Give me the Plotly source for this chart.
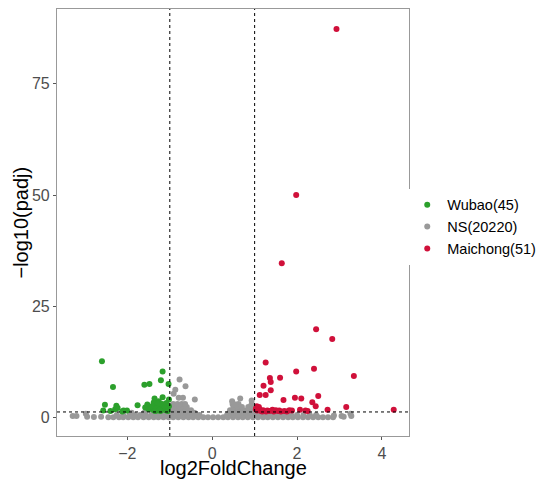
import plotly.graph_objects as go

# significant down (Wubao)
down_x = [-2.60, -1.17, -2.34, -1.21, -1.48, -1.60, -1.03, -1.02, -2.53, -2.57, -2.26, -2.23,
          -2.29, -2.09, -2.01, -1.76, -1.53, -1.36, -1.17, -1.26, -1.02, -1.45, -1.40, -1.33,
          -1.30, -1.25, -1.20, -1.15, -1.10, -1.06, -1.38, -1.28, -1.18, -1.12, -1.50, -1.42,
          -1.22, -1.08, -1.32, -1.05, -1.58, -2.40, -2.12, -1.35, -1.24]
down_y = [12.7, 10.4, 6.9, 8.4, 7.6, 7.4, 7.6, 4.1, 2.9, 1.6, 2.7, 2.2,
          1.9, 1.6, 1.6, 2.8, 3.0, 4.3, 4.6, 3.7, 2.6, 2.2, 1.8, 2.9,
          1.6, 2.4, 1.9, 2.8, 1.7, 2.0, 3.4, 3.2, 3.1, 2.3, 1.9, 2.6,
          1.5, 3.3, 2.1, 1.5, 2.3, 1.5, 1.4, 1.5, 1.7]

# significant up (Maichong)
up_x = [2.93, 1.98, 1.64, 2.45, 2.83, 1.26, 2.40, 1.98, 3.34, 1.36, 1.60, 1.38, 1.21,
        1.38, 1.12, 1.26, 2.50, 1.95, 2.10, 1.68, 2.36, 2.44, 3.16, 4.28, 2.72, 2.07,
        1.05, 1.08, 1.12, 1.20, 1.30, 1.42, 1.50, 1.58, 1.70, 1.82, 1.27, 1.03, 1.15,
        1.35, 1.62, 1.88, 2.25, 1.06, 1.10, 1.45, 1.55, 1.76, 2.20, 1.04, 1.18]
up_y = [87.3, 50.0, 34.7, 19.9, 17.7, 12.4, 11.0, 10.4, 9.4, 8.9, 9.0, 8.0, 7.2,
        6.2, 5.1, 5.1, 4.9, 4.5, 4.3, 4.0, 3.5, 2.6, 2.4, 1.8, 1.8, 1.8,
        2.6, 2.2, 1.9, 1.7, 1.6, 1.8, 1.7, 1.6, 1.5, 1.7, 1.4, 1.9, 1.5,
        1.5, 1.4, 1.6, 1.5, 1.6, 2.4, 1.4, 1.5, 1.4, 1.6, 2.1, 1.4]

# not significant (representative read of the grey cloud)
ns_x = [-2.45, -2.33, -2.2, -2.1, -1.98, -1.86, -1.75, -1.62, -1.5, -1.38, -1.27, -1.15, -1.03,
        -0.92, -0.8, -0.68, -0.56, -0.45, -0.33, -0.21, -0.1, 0.02, 0.14, 0.26, 0.37, 0.49,
        0.61, 0.72, 0.84, 0.96, 1.08, 1.2, 1.31, 1.43, 1.55, 1.67, 1.79, 1.9, 2.02, 2.14,
        2.26, 2.38, 2.5, 2.61, 2.73, 2.85,
        -2.25, -2.1, -1.95, -1.82, -1.7, -1.57, -1.44, -1.3, -1.18, -1.05, -0.93, -0.8, -0.68,
        -0.55, -0.42, -0.3, 0.35, 0.47, 0.6, 0.72, 0.85, 0.97, 1.1, 1.22, 1.35, 1.48, 1.6,
        1.73, 1.86, 2.0, 2.15, 2.3, 2.45,
        -1.9, -1.6, -1.35, -1.15, -0.98, -0.86, -0.75, -0.63, -0.52, -0.42, 0.4, 0.5, 0.6,
        0.7, 0.8, 0.9, 1.05, 1.25, 1.5, 1.8,
        -0.97, -0.88, -0.78, -0.68, -0.58, -0.5, 0.42, 0.52, 0.62, 0.72, 0.82, 0.92,
        -0.95, -0.86, -0.77, -0.68, -0.6, 0.5, 0.6, 0.7, 0.85, 0.95,
        -0.92, -0.82, -0.72, -0.64, 0.48, 0.62, 0.93,
        -0.77, -0.63, -0.91, -0.79, -0.69, -0.41, -0.87, 0.47, 0.66, 0.93, 0.55,
        -3.29, -3.2, -2.98, -2.95, -2.79, 3.05, 3.26, 3.28, 2.87, -2.62, 3.1]
ns_y = [0.1] * 46 + [0.6] * 33 + [1.1] * 20 + [1.7] * 12 + [2.4] * 10 + [3.1] * 7 + \
       [8.6, 7.1, 5.4, 4.5, 4.5, 4.1, 6.3, 3.7, 4.3, 3.9, 3.0,
        0.4, 0.4, 0.9, 0.2, 0.15, 0.4, 0.9, 0.4, 0.5, 0.2, 0.2]

fig = go.Figure()
mk = dict(size=6, line=dict(width=0))
fig.add_trace(go.Scatter(x=ns_x, y=ns_y, mode='markers', name='NS(20220)', legendrank=2,
                         marker=dict(color='#999999', **mk)))
fig.add_trace(go.Scatter(x=down_x, y=down_y, mode='markers', name='Wubao(45)', legendrank=1,
                         marker=dict(color='#2ca02c', **mk)))
fig.add_trace(go.Scatter(x=up_x, y=up_y, mode='markers', name='Maichong(51)', legendrank=3,
                         marker=dict(color='#d0103a', **mk)))

for v in (-1, 1):
    fig.add_vline(x=v, line=dict(color='black', width=1, dash='dot'))
fig.add_hline(y=1.3, line=dict(color='black', width=1, dash='dot'))

axis = dict(showgrid=False, zeroline=False, showline=True, mirror=True, linecolor='#999999',
            linewidth=1.2, ticks='outside', ticklen=3, tickcolor='#555555', automargin=False,
            tickfont=dict(size=16, color='#4d4d4d'))
fig.update_xaxes(range=[-3.66, 4.64], tickvals=[-2, 0, 2, 4], ticktext=['\u22122', '0', '2', '4'], **axis)
fig.update_yaxes(range=[-4.1, 91.8], tickvals=[0, 25, 50, 75], **axis)

fig.add_annotation(text='log2FoldChange', xref='paper', yref='paper', x=0.5, y=-0.074,
                   yanchor='middle', showarrow=False, font=dict(size=20, color='black'))
fig.add_annotation(text='\u2212log10(padj)', xref='paper', yref='paper', x=-0.105, y=0.5,
                   xanchor='center', textangle=-90, showarrow=False,
                   font=dict(size=20, color='black'))

# page body adds a small offset, so the figure is a bit smaller than the window
fig.update_layout(
    width=542, height=476,
    margin=dict(l=49, r=141, t=1, b=48),
    plot_bgcolor='white', paper_bgcolor='white',
    font=dict(family='Liberation Sans, Arial', color='black'),
    legend=dict(x=0.995, xanchor='left', y=0.49, yanchor='middle', font=dict(size=14.5),
                itemwidth=30, tracegroupgap=0),
)

fig.write_html("out.html")
